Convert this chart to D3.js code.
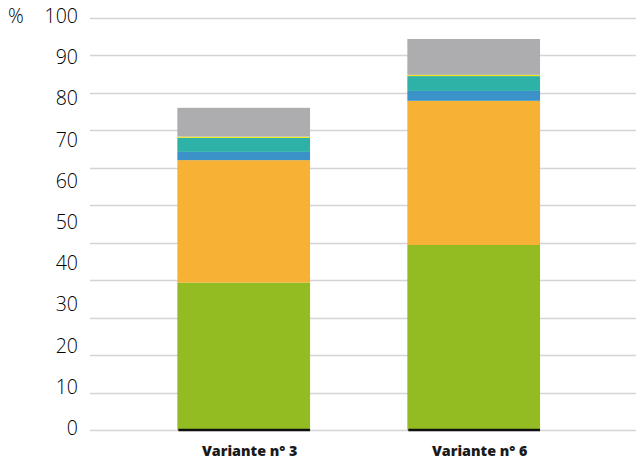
<!DOCTYPE html>
<html>
<head>
<meta charset="utf-8">
<script src="https://cdn.jsdelivr.net/npm/d3@7"></script>
<style>
  html, body { margin: 0; padding: 0; background: #fff; }
  svg { display: block; }
</style>
</head>
<body>
<svg id="chart" width="636" height="459"></svg>
<script>
// Categories and stacked shares (%), bottom to top
const categories = ["Variante n° 3", "Variante n° 6"];
const seriesNames = ["green", "orange", "blue", "teal", "yellow", "grey"];
const greenValues  = [35.8, 44.9];
const orangeValues = [29.7, 35.0];
const blueValues   = [2.0, 2.4];
const tealValues   = [3.4, 3.6];
const yellowValues = [0.3, 0.3];
const greyValues   = [7.0, 8.7];
const tickLabels = ["0", "10", "20", "30", "40", "50", "60", "70", "80", "90", "100"];
const gridCount = 12;

const colors = {
  green: "#93BC22",
  orange: "#F7B134",
  blue: "#3B92C8",
  teal: "#2EB1A6",
  yellow: "#F0E21D",
  grey: "#ADADAF"
};

const rows = categories.map((c, i) => ({
  cat: c,
  green: greenValues[i],
  orange: orangeValues[i],
  blue: blueValues[i],
  teal: tealValues[i],
  yellow: yellowValues[i],
  grey: greyValues[i]
}));

const svg = d3.select("#chart");
const plotTop = 18, plotBottom = 430;

const y = d3.scaleLinear().domain([0, 100]).range([plotBottom, plotTop]);
// Gridlines are spaced evenly across the plot height
const yGrid = d3.scaleLinear().domain([0, gridCount - 1]).range([plotBottom, plotTop]);

const x = d3.scaleBand()
  .domain(categories)
  .range([128.7, 588.7])
  .paddingInner(0.423)
  .paddingOuter(0.2115);

// Gridlines
svg.append("g")
  .selectAll("line")
  .data(d3.range(gridCount))
  .join("line")
  .attr("x1", 90)
  .attr("x2", 636)
  .attr("y1", d => Math.round(yGrid(d)) + 0.5)
  .attr("y2", d => Math.round(yGrid(d)) + 0.5)
  .attr("stroke", "#d4d4d4")
  .attr("stroke-width", 1.5);

// Tick labels
const tickFont = "'Open Sans', Lato, sans-serif";
svg.append("g")
  .selectAll("text")
  .data(tickLabels)
  .join("text")
  .attr("x", 78)
  .attr("y", d => y(+d) - 2)
  .attr("dy", "0.36em")
  .attr("text-anchor", "end")
  .attr("font-family", tickFont)
  .attr("font-weight", 300)
  .attr("font-size", 19.5)
  .attr("fill", "#000")
  .text(d => d);

svg.append("text")
  .attr("x", 8)
  .attr("y", y(100) - 2)
  .attr("dy", "0.36em")
  .attr("font-family", tickFont)
  .attr("font-weight", 300)
  .attr("font-size", 19.5)
  .attr("fill", "#000")
  .text("%");

// Stacked bars
const stack = d3.stack().keys(seriesNames)(rows);
svg.append("g")
  .selectAll("g")
  .data(stack)
  .join("g")
  .attr("fill", d => colors[d.key])
  .selectAll("rect")
  .data(d => d)
  .join("rect")
  .attr("x", d => x(d.data.cat))
  .attr("width", x.bandwidth())
  .attr("y", d => y(d[1]))
  .attr("height", d => y(d[0]) - y(d[1]));

// Dark base under each bar
svg.append("g")
  .selectAll("line")
  .data(categories)
  .join("line")
  .attr("x1", d => x(d) + 1)
  .attr("x2", d => x(d) + x.bandwidth())
  .attr("y1", y(0))
  .attr("y2", y(0))
  .attr("stroke", "#111")
  .attr("stroke-width", 2.5);

// Category labels
svg.append("g")
  .selectAll("text")
  .data(categories)
  .join("text")
  .attr("x", d => x(d) + x.bandwidth() / 2 + 6)
  .attr("y", 456)
  .attr("text-anchor", "middle")
  .attr("font-family", tickFont)
  .attr("font-weight", 800)
  .attr("font-size", 14.3)
  .attr("fill", "#1a1a1a")
  .text(d => d);
</script>
</body>
</html>
